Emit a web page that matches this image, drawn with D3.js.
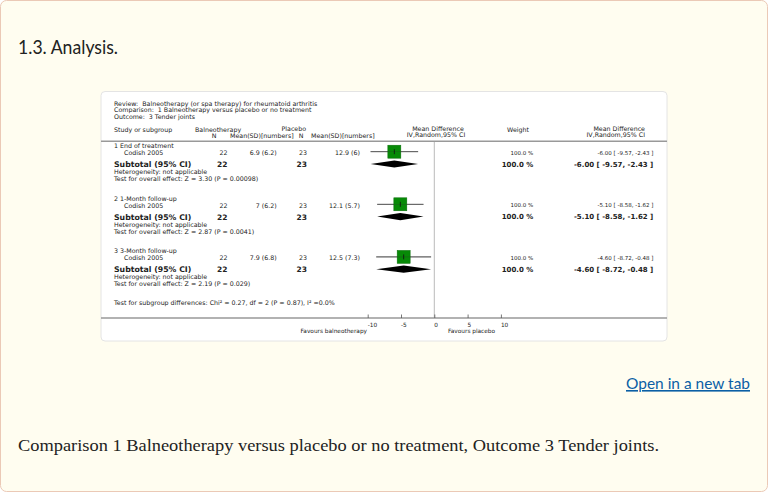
<!DOCTYPE html>
<html><head><meta charset="utf-8">
<script src="https://cdn.jsdelivr.net/npm/d3@7"></script>
<style>
html,body{margin:0;padding:0;background:#fff;}
svg{display:block;}
text{white-space:pre;}
</style></head>
<body>
<svg id="chart" width="768" height="492"></svg>
<script>
// ---------- DATA ----------
const reviewLines = [
  "Review:  Balneotherapy (or spa therapy) for rheumatoid arthritis",
  "Comparison:  1 Balneotherapy versus placebo or no treatment",
  "Outcome:  3 Tender joints"
];
const groups = ["1 End of treatment", "2 1-Month follow-up", "3 3-Month follow-up"];
const studies = ["Codish 2005", "Codish 2005", "Codish 2005"];
const balN = [22, 22, 22];
const balMeanSD = ["6.9 (6.2)", "7 (6.2)", "7.9 (6.8)"];
const plaN = [23, 23, 23];
const plaMeanSD = ["12.9 (6)", "12.1 (5.7)", "12.5 (7.3)"];
const meanDiff = [-6.00, -5.10, -4.60];
const ciLow = [-9.57, -8.58, -8.72];
const ciHigh = [-2.43, -1.62, -0.48];
const weights = [100.0, 100.0, 100.0];
const heterogeneity = ["Heterogeneity: not applicable", "Heterogeneity: not applicable", "Heterogeneity: not applicable"];
const overallTests = [
  "Test for overall effect: Z = 3.30 (P = 0.00098)",
  "Test for overall effect: Z = 2.87 (P = 0.0041)",
  "Test for overall effect: Z = 2.19 (P = 0.029)"
];
const subgroupTest = "Test for subgroup differences: Chi\u00B2 = 0.27, df = 2 (P = 0.87), I\u00B2 =0.0%";
const axisTicks = [-10, -5, 0, 5, 10];
const favours = ["Favours balneotherapy", "Favours placebo"];
const pageTitle = "1.3. Analysis.";
const linkText = "Open in a new tab";
const caption = "Comparison 1 Balneotherapy versus placebo or no treatment, Outcome 3 Tender joints.";

// ---------- DRAW ----------
const svg = d3.select("#chart");
const hy = s => String(s).replace(/\u2212/g, "-");
const fmt = v => hy(d3.format(".2f")(v));
const ciText = i => `${fmt(meanDiff[i])} [ ${fmt(ciLow[i])}, ${fmt(ciHigh[i])} ]`;
const wText = i => `${d3.format(".1f")(weights[i])} %`;

// page background + border
svg.append("rect").attr("x", 0.5).attr("y", 0.5).attr("width", 767).attr("height", 491)
  .attr("rx", 6).attr("fill", "#fffdf0").attr("stroke", "#ebc9b6");

svg.append("text").attr("x", 18).attr("y", 54).text(pageTitle)
  .attr("font-family", "Lato, 'Open Sans', sans-serif").attr("font-size", 20).attr("fill", "#222")
  .attr("textLength", 100).attr("lengthAdjust", "spacingAndGlyphs");

// white panel
svg.append("rect").attr("x", 101).attr("y", 91.5).attr("width", 566).attr("height", 249.5)
  .attr("rx", 4).attr("fill", "#fff").attr("stroke", "#e4e4e4");

const F = "'DejaVu Sans', sans-serif";
function txt(x, y, s, opts = {}) {
  return svg.append("text").attr("x", x).attr("y", y).text(s)
    .attr("font-family", F).attr("font-size", opts.size || 6.3)
    .attr("font-weight", opts.bold ? "bold" : "normal")
    .attr("text-anchor", opts.anchor || "start")
    .attr("dominant-baseline", "central")
    .attr("fill", opts.fill || "#222");
}

// review header
const ry = d3.scaleLinear().domain([0, 2]).range([103, 116]);
reviewLines.forEach((s, i) => txt(114, ry(i), s));

// column headers
txt(114, 129.7, "Study or subgroup");
txt(195, 129.2, "Balneotherapy");
txt(281.5, 128.5, "Placebo");
txt(214, 135.3, "N", {anchor: "middle"});
txt(230, 135.3, "Mean(SD)[numbers]");
txt(301, 135.3, "N", {anchor: "middle"});
txt(311, 135.3, "Mean(SD)[numbers]");
txt(438, 128.7, "Mean Difference", {anchor: "middle"});
txt(436, 134.7, "IV,Random,95% CI", {anchor: "middle"});
txt(518, 129.7, "Weight", {anchor: "middle"});
txt(645, 128.7, "Mean Difference", {anchor: "end"});
txt(645, 134.7, "IV,Random,95% CI", {anchor: "end"});

// scales
const x = d3.scaleLinear().domain([-10, 10]).range([367.7, 500.9]);
const gy = d3.scaleLinear().domain([0, groups.length - 1]).range([145.4, 250.6]);

// zero line
svg.append("line").attr("x1", x(0)).attr("x2", x(0)).attr("y1", 141).attr("y2", 318)
  .attr("stroke", "#bbb").attr("stroke-width", 1);

// header rule
svg.append("line").attr("x1", 101).attr("x2", 667).attr("y1", 141.3).attr("y2", 141.3)
  .attr("stroke", "#999").attr("stroke-width", 1.5);

groups.forEach((g, i) => {
  const y0 = gy(i);
  const ys = y0 + 7.2, yt = y0 + 19.2;
  txt(114, y0, g);
  txt(124, ys, studies[i]);
  txt(227.5, ys, String(balN[i]), {anchor: "end"});
  txt(276.7, ys, balMeanSD[i], {anchor: "end"});
  txt(307, ys, String(plaN[i]), {anchor: "end"});
  txt(360, ys, plaMeanSD[i], {anchor: "end"});
  txt(533.3, ys, wText(i), {anchor: "end", size: 5.5});
  txt(653.3, ys, ciText(i), {anchor: "end", size: 5.5});

  txt(114, yt, "Subtotal (95% CI)", {bold: true, size: 7.8});
  txt(227.5, yt, String(balN[i]), {bold: true, size: 7.5, anchor: "end"});
  txt(307, yt, String(plaN[i]), {bold: true, size: 7.5, anchor: "end"});
  txt(533.3, yt, wText(i), {bold: true, size: 7, anchor: "end"});
  txt(653.3, yt, ciText(i), {bold: true, size: 7, anchor: "end"});

  txt(114, y0 + 26, heterogeneity[i]);
  txt(114, y0 + 33, overallTests[i]);

  // study CI + square
  const py = y0 + 6.3;
  svg.append("line").attr("x1", x(ciLow[i])).attr("x2", x(ciHigh[i])).attr("y1", py).attr("y2", py)
    .attr("stroke", "#333").attr("stroke-width", 0.8);
  const s = 13;
  svg.append("rect").attr("x", x(meanDiff[i]) - s / 2).attr("y", py - s / 2)
    .attr("width", s).attr("height", s).attr("fill", "#078a07").attr("stroke", "#0a6e0a").attr("stroke-width", 0.5);
  svg.append("line").attr("x1", x(ciLow[i])).attr("x2", x(ciHigh[i])).attr("y1", py).attr("y2", py)
    .attr("stroke", "#333").attr("stroke-width", 0.5).attr("opacity", 0.6);
  svg.append("line").attr("x1", x(meanDiff[i])).attr("x2", x(meanDiff[i])).attr("y1", py - 2.5).attr("y2", py + 2.5)
    .attr("stroke", "#111").attr("stroke-width", 0.8);

  // diamond
  const dy = y0 + 18.6, h = 3.6;
  svg.append("polygon")
    .attr("points", [[x(ciLow[i]), dy], [x(meanDiff[i]), dy - h], [x(ciHigh[i]), dy], [x(meanDiff[i]), dy + h]].map(p => p.join(",")).join(" "))
    .attr("fill", "#000");
});

txt(114, 302.3, subgroupTest);

// axis
svg.append("line").attr("x1", 101).attr("x2", 667).attr("y1", 318).attr("y2", 318)
  .attr("stroke", "#999").attr("stroke-width", 1.5);
const axis = d3.axisBottom(x).tickValues(axisTicks).tickSize(-3.5).tickPadding(3)
  .tickFormat(d => hy(d3.format("d")(d)));
const ag = svg.append("g").attr("transform", "translate(0,318)").call(axis);
ag.select(".domain").remove();
ag.selectAll(".tick line").attr("stroke", "#555").attr("stroke-width", 0.8);
ag.selectAll(".tick text").attr("font-family", F).attr("font-size", 5.8).attr("fill", "#222")
  .attr("text-anchor", "start").attr("dx", -0.5).attr("y", 2.9).attr("dominant-baseline", "central");

txt(367, 330.6, favours[0], {anchor: "end", size: 5.8});
txt(448, 330.6, favours[1], {size: 5.8});

// link
svg.append("text").attr("x", 750).attr("y", 389).text(linkText)
  .attr("font-family", "Lato, 'Open Sans', sans-serif").attr("font-size", 16).attr("fill", "#0b5fa5")
  .attr("text-anchor", "end").attr("text-decoration", "underline")
  .attr("textLength", 124).attr("lengthAdjust", "spacingAndGlyphs");

// caption
svg.append("text").attr("x", 18).attr("y", 451).text(caption)
  .attr("font-family", "'Liberation Serif', 'DejaVu Serif', serif").attr("font-size", 17).attr("fill", "#222")
  .attr("textLength", 641).attr("lengthAdjust", "spacingAndGlyphs");
</script>
</body></html>
